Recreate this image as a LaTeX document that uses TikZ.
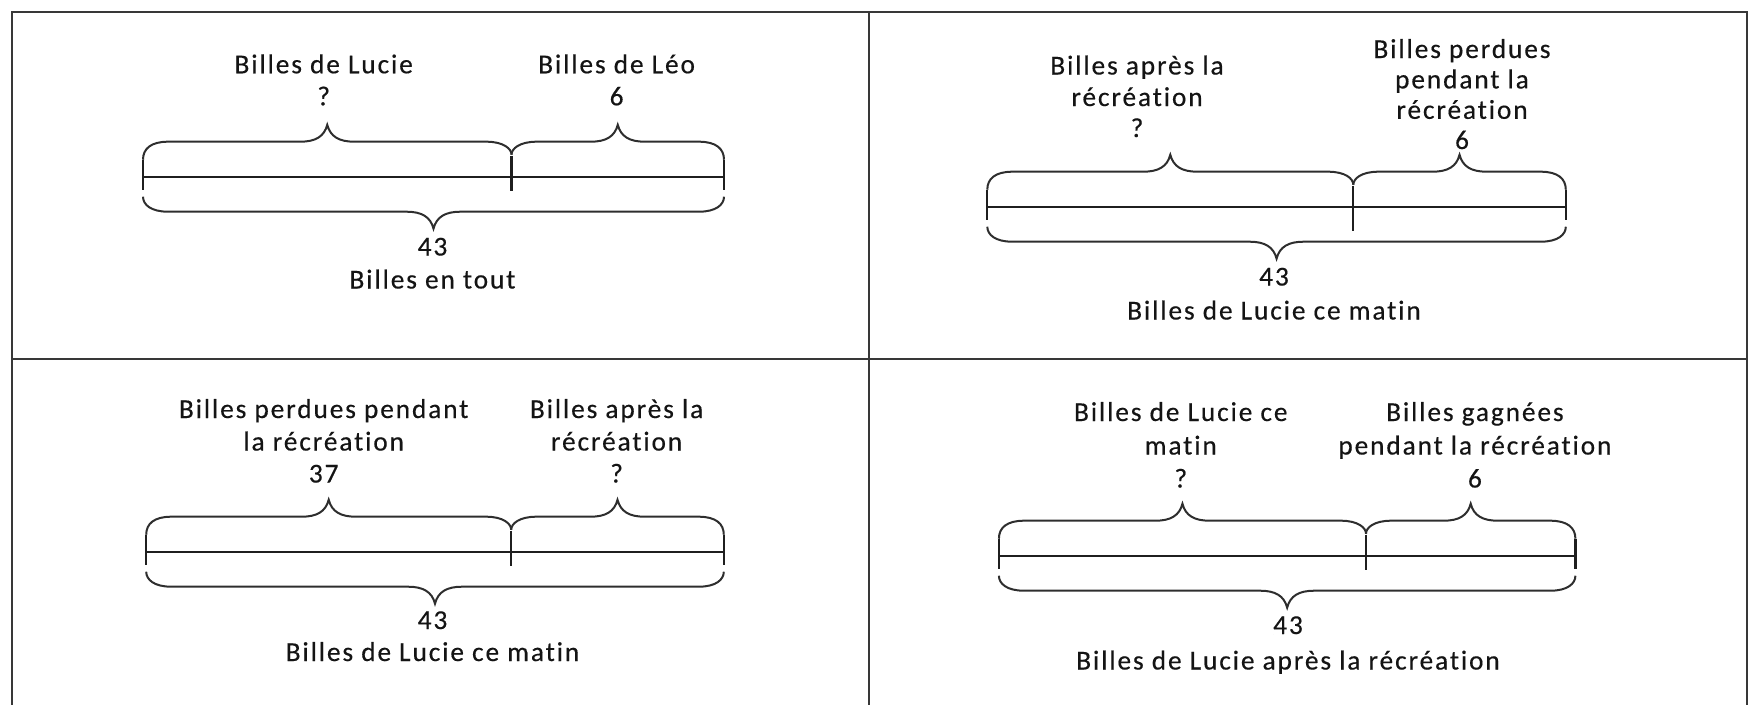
\documentclass[tikz,border=0pt]{standalone}
\usepackage{fontspec}
\newfontfamily\lblfont[LetterSpace=7,RawFeature={-liga},FakeBold=0.4]{Carlito}
\newcommand\mybrace[6]{% x1, x2, bar y, side (1 up, -1 down), left end offset, right end offset
  \draw[bracestyle] (#1,{#3-(#4)*#5})
    .. controls (#1,{#3-(#4)*28}) and ({#1+8},{#3-(#4)*35}) .. ({#1+25},{#3-(#4)*35})
    -- ({(#1+#2)/2-27},{#3-(#4)*35})
    .. controls ({(#1+#2)/2-12},{#3-(#4)*35}) and ({(#1+#2)/2-3},{#3-(#4)*40}) .. ({(#1+#2)/2},{#3-(#4)*52})
    .. controls ({(#1+#2)/2+3},{#3-(#4)*40}) and ({(#1+#2)/2+12},{#3-(#4)*35}) .. ({(#1+#2)/2+27},{#3-(#4)*35})
    -- ({#2-25},{#3-(#4)*35})
    .. controls ({#2-8},{#3-(#4)*35}) and (#2,{#3-(#4)*28}) .. (#2,{#3-(#4)*#6});
}
\newcommand\mybar[5]{% x1, divider x, x2, bar y, divider bottom offset
  \draw[barline] (#1,#4) -- (#3,#4);
  \draw[barline] (#1,{#4-17}) -- (#1,{#4+13});
  \draw[barline] (#3,{#4-17}) -- (#3,{#4+13});
  \draw[barline] (#2,{#4-21}) -- (#2,{#4+#5});
  \mybrace{#1}{#2}{#4}{1}{17}{22}
  \mybrace{#2}{#3}{#4}{1}{22}{17}
  \mybrace{#1}{#3}{#4}{-1}{20}{20}
}
\begin{document}
\begin{tikzpicture}[x=1pt,y=-1pt,
  lbl/.style={anchor=base,inner sep=0pt,font=\lblfont\fontsize{27.3pt}{30pt}\selectfont,text=black!92},
  frame/.style={line width=2.2pt,draw=black!78},
  barline/.style={line width=2.2pt,draw=black!88},
  bracestyle/.style={line width=2pt,draw=black!82}]
\clip (0,0) rectangle (1750,704);
% frame
\draw[frame] (11.7,720) -- (11.7,11.7) -- (1746.7,11.7) -- (1746.7,720);
\draw[frame] (11.7,359) -- (1746.7,359);
\draw[frame] (869,11.7) -- (869,720);

% ---------- panel 1 ----------
\mybar{143}{511.5}{724}{176.7}{14}
\node[lbl] (p1a1) at (323.7,73.3) {Billes de Lucie};
\node[lbl] (p1a2) at (323.7,105.3) {?};
\node[lbl] (p1b1) at (616.6,73.3) {Billes de Léo};
\node[lbl] (p1b2) at (616.6,105.3) {6};
\node[lbl] (p1c1) at (432.5,255.5) {43};
\node[lbl] (p1c2) at (432.5,288.5) {Billes en tout};

% ---------- panel 2 ----------
\mybar{987.3}{1353.3}{1565.8}{206.7}{24}
\node[lbl] (p2a1) at (1137,74.5) {Billes après la};
\node[lbl] (p2a2) at (1137,106) {récréation};
\node[lbl] (p2a3) at (1137,137) {?};
\node[lbl] (p2b1) at (1462,58) {Billes perdues};
\node[lbl] (p2b2) at (1462,88.4) {pendant la};
\node[lbl] (p2b3) at (1462,118.8) {récréation};
\node[lbl] (p2b4) at (1462,149) {6};
\node[lbl] (p2c1) at (1274,285.5) {43};
\node[lbl] (p2c2) at (1274,319.5) {Billes de Lucie ce matin};

% ---------- panel 3 ----------
\mybar{146.2}{511.2}{723.8}{551.7}{14}
\node[lbl] (p3a1) at (323.7,418) {Billes perdues pendant};
\node[lbl] (p3a2) at (323.7,450.5) {la récréation};
\node[lbl] (p3a3) at (323.7,482.5) {37};
\node[lbl] (p3b1) at (616.6,418) {Billes après la};
\node[lbl] (p3b2) at (616.6,450.5) {récréation};
\node[lbl] (p3b3) at (616.6,482.5) {?};
\node[lbl] (p3c1) at (432.5,629) {43};
\node[lbl] (p3c2) at (432.5,661) {Billes de Lucie ce matin};

% ---------- panel 4 ----------
\mybar{998.9}{1366}{1575.4}{555.7}{14}
\node[lbl] (p4a1) at (1180.8,421) {Billes de Lucie ce};
\node[lbl] (p4a2) at (1180.8,454.5) {matin};
\node[lbl] (p4a3) at (1180.8,487.5) {?};
\node[lbl] (p4b1) at (1474.9,421) {Billes gagnées};
\node[lbl] (p4b2) at (1474.9,454.5) {pendant la récréation};
\node[lbl] (p4b3) at (1474.9,487.5) {6};
\node[lbl] (p4c1) at (1288,634) {43};
\node[lbl] (p4c2) at (1288,669.5) {Billes de Lucie après la récréation};
\end{tikzpicture}
\end{document}
